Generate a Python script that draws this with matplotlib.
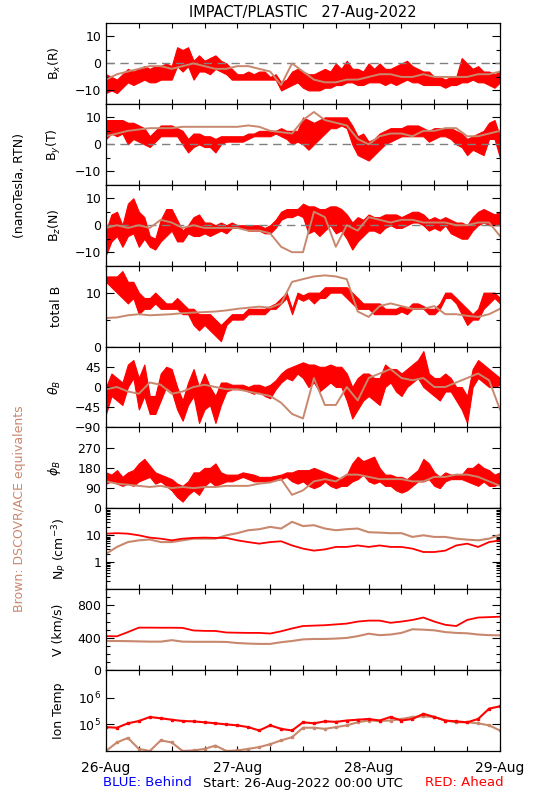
import numpy as np
import matplotlib
matplotlib.use("Agg")
import matplotlib.pyplot as plt
from matplotlib.ticker import FixedLocator, MultipleLocator, LogLocator, NullLocator

# time axis, in days from 26-Aug 00:00
hours = np.arange(73)        # hourly samples (red, noisy fields)
hours2 = np.arange(0, 73, 2)  # 2-hourly samples

day_labels = ["26-Aug", "27-Aug", "28-Aug", "29-Aug"]

# --- Bx(R)
bx_red_lo = [-11,-10,-11,-9,-7,-8,-7,-6,-7,-7,-6,-6,-6,-1,-3,-1,-6,-3,-3,-4,-2,-3,-4,-6,-6,-6,-6,-6,-6,-6,-6,-6,
             -10,-9,-8,-7,-9,-10,-10,-10,-9,-9,-8,-8,-7,-7,-8,-8,-7,-7,-7,-8,-7,-8,-7,-6,-7,-7,-8,-8,-8,-8,-9,-8,-8,
             -7,-7,-6,-7,-7,-8,-9,-7]
bx_red_hi = [-4,-5,-6,-4,-2,-3,-2,-1,-2,-1,-1,0,-1,6,5,6,1,3,1,2,3,1,0,-2,-4,-4,-3,-4,-3,-3,-5,-4,
             -7,-6,-3,-2,-3,-4,-4,-3,-2,-3,0,-2,1,-2,-2,-3,0,-2,0,-2,-2,-1,0,1,-1,-2,-3,-3,-5,-5,-6,-5,-5,
             2,0,-2,-1,-3,-3,-4,-3]
bx_brown = [-6,-4,-3,-2,-1,-1,-2,-1,0,-1,-2,-2,-1,-1,-2,-3,-8,0,-3,-6,-7,-7,-6,-6,-5,-4,-4,-5,-5,-4,-5,-5,-5,-5,-4,-4,-3]

# --- By(T)
by_red_lo = [2,4,3,4,0,2,1,0,-1,1,3,3,3,3,0,-3,-1,0,-1,-1,-3,0,1,1,1,1,2,3,3,3,3,4,3,2,0,1,0,-2,0,2,4,6,6,7,6,0,
             -4,-5,-6,-4,-2,0,1,2,3,3,3,3,3,1,2,3,3,2,0,-1,-4,-2,-3,-4,2,2,-5]
by_red_hi = [9,9,9,9,8,8,7,6,3,5,7,7,7,6,5,2,4,4,3,3,2,3,3,3,3,3,4,4,5,5,5,5,6,5,5,5,10,9,8,9,10,10,10,10,10,7,
             3,4,1,2,4,5,6,6,6,7,7,7,6,5,6,6,6,6,5,4,2,3,4,5,8,9,3]
by_brown = [3,4,5,5.5,6,6,6,6.5,6.5,6.5,6.5,6.5,6.5,7,6.5,5,4.5,4,9,12,9,8,7,2,0,3,4,4,3,5,5,6,6,3,3,4,5]

# --- Bz(N)
bz_red_lo = [-11,-6,-4,-8,-4,-3,-8,-5,-8,-9,-6,-4,-2,-6,-6,-3,-4,-4,-3,-4,-3,-2,-3,-1,-1,-1,-2,-2,-2,-3,-3,-1,
             2,3,3,4,3,-3,-2,-4,-2,0,-3,-2,-5,-9,-6,-4,-2,-2,-3,-1,0,-1,-1,0,1,1,0,-2,-1,-2,0,-3,-4,-5,-5,-2,
             0,1,0,0,0]
bz_red_hi = [-2,4,5,0,8,10,5,3,-4,-5,2,6,6,2,-2,0,3,4,1,1,0,1,0,1,0,0,0,0,0,-1,0,2,5,6,6,6,8,7,7,6,6,7,7,6,4,1,
             3,2,4,3,3,4,4,4,3,4,5,5,4,2,3,2,3,2,1,1,0,3,5,6,5,4,5]
bz_brown = [-1,0,-1,0,-1,2,1,-1,0,-1,-1,-1,-1,-2,-2,-3,-8,-10,-10,5,3,-8,0,-2,3,2,1,2,2,1,1,1,0,0,1,1,-4]

# --- total B
b_red_lo = [12,11,10,9,8,9,6,7,7,8,7,7,7,7,6,6,4,3,4,3,2,1,4,5,5,5,6,6,6,6,7,7,8,9,6,9,8.5,9,8,9,9,10,10,10,9,8,
            7,7,7,6,6,6,6,6,6.5,6,7,7,7,6,6,7,9,9,8,6,4,5,5,7,8,9,8]
b_red_hi = [13,13,13,14,12,12,10,9,9,10,9,8,8,9,8,7,7,6,6,6,5,4,5,6,6,6,7,7,7,7,7.5,8,9,10,7,10,9.5,10,10,10,11,
            11,11,11,11,10,9,8,8,8,8,7,7,7,7.5,7,8,8,7.5,7,7,8,10,10,9,8,7,6,7,10,10,10,9]
b_brown = [5.3,5.4,5.8,6.0,5.8,5.9,6.0,6.2,6.3,6.4,6.5,6.7,7.0,7.2,7.4,7.2,8.0,12.0,12.5,13.0,13.2,13.0,12.5,
           6.5,5.5,7.5,8.0,7.5,7.0,7.0,7.5,6.0,6.0,5.7,5.5,6.0,7.0]

# --- theta_B
th_red_lo = [-60,-20,-30,-40,0,20,-50,-20,-60,-60,-30,0,-10,-50,-75,-40,-20,-80,-50,-40,-80,-40,-10,-5,-5,-5,
             -10,-15,-10,-20,-25,-5,10,20,15,30,20,0,10,-10,0,10,0,0,-30,-70,-50,-30,-20,-30,-40,0,10,-10,-20,0,
             10,20,0,-10,-20,-30,-10,-10,-30,-50,-80,0,20,10,0,0,5]
th_red_hi = [0,30,20,10,50,60,20,50,-20,-20,30,45,40,0,-30,10,40,0,30,0,-20,10,10,5,5,5,0,5,5,0,5,15,30,40,45,
             50,55,50,50,45,45,50,45,45,30,0,20,30,30,20,20,50,40,40,30,40,50,60,80,30,20,20,30,20,0,0,-20,40,
             60,50,40,30,20]
th_brown = [-5,0,-10,-15,10,5,-15,-10,0,5,0,-5,-5,-10,-15,-20,-35,-60,-70,20,-40,-40,0,-30,20,30,40,20,15,20,
            0,0,10,20,30,15,-50]

# --- phi_B
ph_red_lo = [110,120,110,100,110,100,120,130,140,110,120,100,80,50,30,60,80,60,100,120,100,110,120,120,130,140,
             130,120,120,120,120,125,130,140,120,110,120,100,90,100,120,100,90,100,100,120,130,150,120,110,120,
             100,100,80,70,80,100,120,120,130,100,90,120,130,130,130,120,110,100,120,100,100,110]
ph_red_hi = [160,150,170,140,160,170,200,220,190,160,150,140,130,110,100,120,160,160,180,180,200,160,150,150,
             150,160,155,150,140,140,140,145,150,160,160,170,170,170,180,170,160,150,140,130,150,200,230,210,220,
             230,180,150,150,140,140,130,150,170,220,200,160,140,160,150,150,150,180,180,200,180,170,150,160]
ph_brown = [120,110,105,100,95,100,90,95,90,95,95,100,100,100,110,115,130,60,80,120,130,120,150,150,140,130,130,
            130,120,120,140,140,150,150,140,120,100]

# --- proton density (cm^-3)
np_red = [11.5,12,11.5,10,8.2,7.5,6.5,7.5,8,8.2,8,8,6.5,5.6,4.9,5.6,6,4.2,3.2,2.7,3,3.7,3.7,4.2,3.7,4.2,3.7,3.7,
          3.2,2.4,2.4,2.7,4.2,4.9,3.7,5.6,6.5]
np_brown = [2.05,3.7,5.6,6.5,7,5.6,5.6,6.5,7.5,7.5,7.5,10,12,15.4,16.8,20.5,17.8,31.6,22,23.7,17.8,15.4,16.8,17.8,
            13,12.6,12,12,8.7,10,8.7,8.7,7.5,6.9,6.5,7.5,10.5]

# --- bulk speed (km/s)
v_red = [420,418,470,525,525,524,524,522,490,485,484,465,462,460,460,452,480,515,545,550,555,565,575,600,612,612,
         585,600,620,650,600,560,545,620,650,655,660]
v_brown = [360,360,358,355,352,352,370,352,350,350,350,348,335,328,324,324,345,360,380,385,385,390,398,420,450,
           432,440,460,505,500,492,470,460,455,440,432,430]

# --- ion temperature (K)
t_red = [7.9e4,7.5e4,1.1e5,1.34e5,1.9e5,1.7e5,1.5e5,1.34e5,1.3e5,1.2e5,1.1e5,1.0e5,9.2e4,7.9e4,5.9e4,9.2e4,6.8e4,
         5.9e4,1.2e5,1.1e5,1.3e5,1.25e5,1.4e5,1.5e5,1.6e5,1.4e5,1.9e5,1.4e5,1.6e5,2.5e5,1.9e5,1.4e5,1.3e5,1.2e5,
         1.6e5,3.9e5,4.8e5]
t_brown = [1.0e4,2.1e4,3.1e4,1.2e4,1.0e4,2.5e4,2.1e4,1.0e4,1.05e4,1.2e4,1.6e4,1.0e4,1.05e4,1.2e4,1.4e4,1.8e4,
           2.5e4,3.3e4,7.5e4,7.5e4,6.8e4,7.9e4,9.2e4,1.2e5,1.4e5,1.35e5,1.4e5,1.6e5,1.9e5,2.0e5,1.9e5,1.4e5,
           1.2e5,1.2e5,1.1e5,9.2e4,5.9e4]

RED = "#ff0000"
BROWN = "#c8886e"

t1 = hours / 24.0
t2 = hours2 / 24.0

fig, axs = plt.subplots(9, 1, sharex=True, figsize=(5.5, 8), dpi=100)
plt.subplots_adjust(left=106/550, right=500/550, top=1-23/800, bottom=1-751/800, hspace=0)

def noisy(ax, lo, hi, brown):
    ax.plot(t2, brown, color=BROWN, lw=1.4)
    ax.fill_between(t1, lo, hi, color=RED, lw=0.8, edgecolor=RED)

# B components
for ax, lo, hi, br, lab in [(axs[0], bx_red_lo, bx_red_hi, bx_brown, "B$_x$(R)"),
                            (axs[1], by_red_lo, by_red_hi, by_brown, "B$_y$(T)"),
                            (axs[2], bz_red_lo, bz_red_hi, bz_brown, "B$_z$(N)")]:
    ax.axhline(0, color="#808080", lw=1, dashes=(6, 4))
    noisy(ax, lo, hi, br)
    ax.set_ylim(-15, 15)
    ax.set_yticks([-10, 0, 10])
    ax.yaxis.set_minor_locator(FixedLocator([-5, 5]))
    ax.set_ylabel(lab)

noisy(axs[3], b_red_lo, b_red_hi, b_brown)
axs[3].set_ylim(0, 15)
axs[3].set_yticks([0, 10])
axs[3].yaxis.set_minor_locator(FixedLocator([5]))
axs[3].set_ylabel("total B")

noisy(axs[4], th_red_lo, th_red_hi, th_brown)
axs[4].set_ylim(-90, 90)
axs[4].set_yticks([-90, -45, 0, 45])
axs[4].set_ylabel(r"$\theta_B$")

noisy(axs[5], ph_red_lo, ph_red_hi, ph_brown)
axs[5].set_ylim(0, 360)
axs[5].set_yticks([0, 90, 180, 270])
axs[5].set_ylabel(r"$\phi_B$")

ax = axs[6]
ax.plot(t2, np_brown, color=BROWN, lw=1.5)
ax.plot(t2, np_red, color=RED, lw=1.3)
ax.set_yscale("log")
ax.set_ylim(0.1, 100)
ax.yaxis.set_major_locator(FixedLocator([1, 10]))
ax.set_yticklabels(["1", "10"])
ax.yaxis.set_minor_locator(LogLocator(subs=np.arange(2, 10)))
ax.yaxis.set_minor_formatter(plt.NullFormatter())
ax.set_ylabel("N$_P$ (cm$^{-3}$)")

ax = axs[7]
ax.plot(t2, v_brown, color=BROWN, lw=1.5)
ax.plot(t2, v_red, color=RED, lw=1.3)
ax.set_ylim(0, 1000)
ax.set_yticks([0, 400, 800])
ax.yaxis.set_minor_locator(MultipleLocator(100))
ax.set_ylabel("V (km/s)")

ax = axs[8]
ax.plot(t2, t_brown, color=BROWN, lw=1.5, marker="s", ms=1.5)
ax.plot(t2, t_red, color=RED, lw=1.5, marker="s", ms=2)
ax.set_yscale("log")
ax.set_ylim(1e4, 1.1e7)
ax.yaxis.set_major_locator(FixedLocator([1e5, 1e6]))
ax.set_yticklabels(["10$^5$", "10$^6$"])
ax.yaxis.set_minor_locator(NullLocator())
ax.set_ylabel("Ion Temp")

for i, ax in enumerate(axs):
    ax.set_xlim(0, 3)
    ax.set_xticks([0, 1, 2, 3])
    ax.xaxis.set_minor_locator(MultipleLocator(0.25))
    ax.tick_params(axis="x", which="both", direction="in", top=True, bottom=True, length=3.5, width=0.8)
    ax.tick_params(axis="y", which="major", direction="in", left=True, right=True, length=6, width=0.8,
                   labelsize=9)
    ax.tick_params(axis="y", which="minor", direction="in", left=True, right=True, length=3, width=0.8)
    ax.yaxis.label.set_size(9)
    ax.yaxis.set_label_coords(-0.11, 0.5)
    for s in ax.spines.values():
        s.set_linewidth(0.9)
axs[6].yaxis.set_label_coords(-0.095, 0.5)
axs[7].yaxis.set_label_coords(-0.105, 0.5)
axs[8].yaxis.set_label_coords(-0.105, 0.5)

axs[8].set_xticklabels(day_labels, fontsize=10)
axs[8].tick_params(axis="x", pad=7)

fig.text(303/550, 1-12/800, "IMPACT/PLASTIC   27-Aug-2022", ha="center", va="center", fontsize=10.5)
fig.text(20/550, 1-186/800, "(nanoTesla, RTN)", rotation=90, ha="center", va="center", fontsize=9)
fig.text(20/550, 1-509/800, "Brown: DSCOVR/ACE equivalents", rotation=90, ha="center", va="center",
         fontsize=9, color=BROWN)
fig.text(147/550, 1-783/800, "BLUE: Behind", ha="center", va="center", fontsize=9.5, color="#0000ff")
fig.text(303/550, 1-783/800, "Start: 26-Aug-2022 00:00 UTC", ha="center", va="center", fontsize=9.5)
fig.text(464/550, 1-783/800, "RED: Ahead", ha="center", va="center", fontsize=9.5, color=RED)

fig.savefig("out.png", dpi=100)
